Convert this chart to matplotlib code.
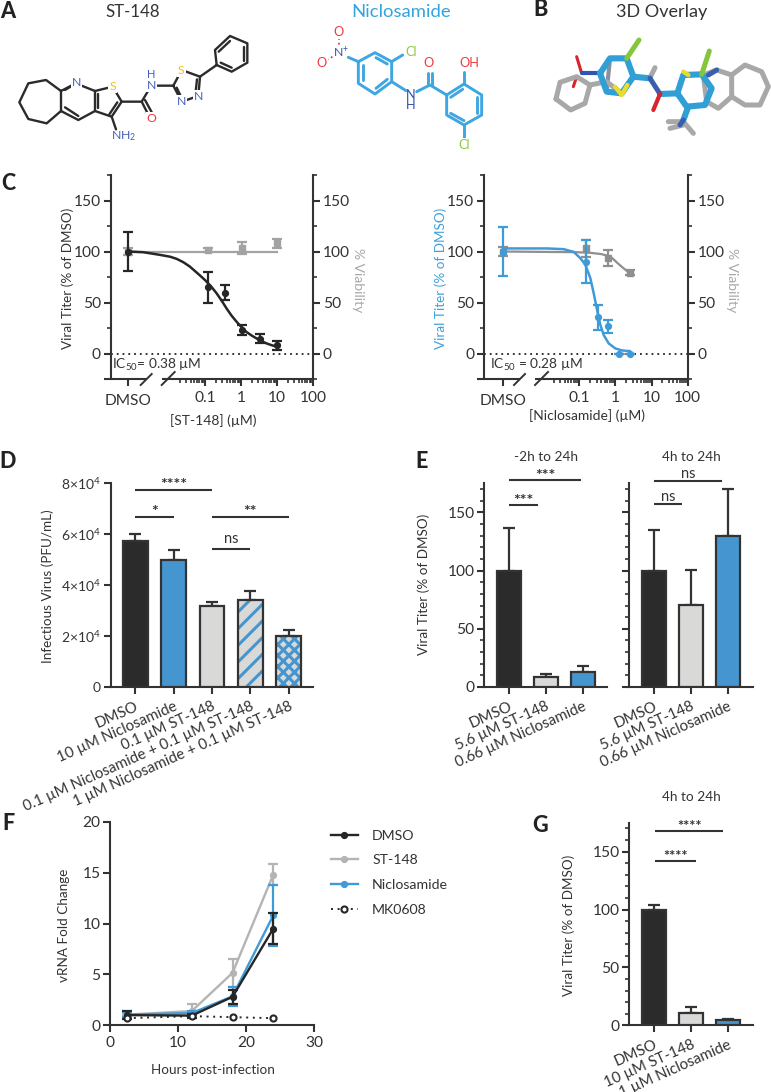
import matplotlib
matplotlib.use('Agg')
import matplotlib.pyplot as plt
from matplotlib.ticker import NullFormatter

plt.rcParams['font.family'] = ['Lato', 'DejaVu Sans']
plt.rcParams['mathtext.default'] = 'regular'
plt.rcParams['hatch.linewidth'] = 2.2
plt.rcParams['text.color'] = '#333333'
plt.rcParams['axes.labelcolor'] = '#333333'

W, H = 771, 1092
DARK = '#2b2b2b'
AX = '#333333'
BLUE = '#3f9ad8'
BARBLUE = '#4596d0'
BARGREY = '#d9d9d7'
GREY = '#a3a3a3'
GREY2 = '#8f8f8f'
TICKFS = 11.2
LABFS = 9.7

# ---- Panel C data
st_conc = [0.125, 0.37, 1.1, 3.3, 10]
st_titer = [65, 59.5, 23, 14.5, 8]
st_titer_err = [15, 7.5, 5, 4.5, 4.5]
st_dmso = [100, 19.5]
st_via_conc = [0.125, 1.1, 10]
st_via = [101.5, 103.5, 108]
st_via_err = [1.5, 5.5, 4.5]
st_via_dmso = [100, 3]
st_fit_x = [0.00074, 0.00194, 0.0056, 0.0107, 0.0163, 0.025, 0.038, 0.07, 0.1, 0.15, 0.21, 0.3, 0.40, 0.55, 0.76, 1.05, 1.43, 2.0, 2.7, 3.8, 5.2, 7.3, 10.2]
st_fit_y = [100, 99.3, 96.7, 94.9, 92.8, 89.5, 85.2, 77, 72, 65.5, 59, 51, 44, 37, 31, 25.5, 21, 17.5, 14.8, 12, 9.8, 8, 6.6]
st_via_fit_x = [0.00074, 10.2]
st_via_fit_y = [100, 100]

ni_conc = [0.155, 0.32, 0.64, 1.25, 2.5]
ni_titer = [90, 35.5, 26.5, 0, 0]
ni_titer_err = [21, 12.5, 6.5, 0, 0]
ni_dmso = [100, 24.5]
ni_via_conc = [0.155, 0.64, 2.5]
ni_via = [103, 93.5, 79]
ni_via_err = [8, 7.5, 2.5]
ni_via_dmso = [100, 4.5]
ni_fit_x = [0.00076, 0.01265, 0.0367, 0.0696, 0.1066, 0.147, 0.202, 0.25, 0.31, 0.383, 0.474, 0.653, 1.0, 1.53, 2.5]
ni_fit_y = [103, 103, 102.3, 99.7, 93.4, 87, 73.8, 59, 42.6, 27.9, 18, 9.8, 4.9, 3, 2.3]
ni_via_fit_x = [0.00076, 0.086, 0.202, 0.4, 0.64, 0.85, 1.11, 1.5, 1.9, 2.5]
ni_via_fit_y = [100, 99.3, 98.7, 97.5, 95.7, 93, 89, 85, 82, 78.7]

# ---- Panel D data
d_labels = ['DMSO', '10 µM Niclosamide', '0.1 µM ST-148',
            '0.1 µM Niclosamide + 0.1 µM ST-148', '1 µM Niclosamide + 0.1 µM ST-148']
d_vals = [5.75e4, 5.0e4, 3.17e4, 3.4e4, 2.0e4]
d_errs = [0.25e4, 0.37e4, 0.17e4, 0.36e4, 0.25e4]

# ---- Panel E data
e_labels = ['DMSO', '5.6 µM ST-148', '0.66 µM Niclosamide']
e1_vals = [100, 8.5, 13]
e1_errs = [37, 2.5, 5]
e2_vals = [100, 70.5, 130]
e2_errs = [35, 30, 40]

# ---- Panel F data
f_hours = [2.5, 12, 18, 24]
f_dmso = [1.0, 0.95, 2.8, 9.5]
f_dmso_low = [0.65, 0.75, 2.05, 8.0]
f_dmso_up = [1.4, 1.15, 3.5, 11.0]
f_st = [1.05, 1.4, 5.15, 14.8]
f_st_low = [0.95, 1.0, 3.8, 13.8]
f_st_up = [1.15, 2.05, 6.55, 15.85]
f_ni = [1.05, 1.2, 2.85, 10.8]
f_ni_low = [0.85, 1.0, 1.9, 7.8]
f_ni_up = [1.3, 1.45, 3.75, 13.8]
f_mk = [0.7, 0.9, 0.8, 0.7]

# ---- Panel G data
g_labels = ['DMSO', '10 µM ST-148', '1 µM Niclosamide']
g_vals = [100, 11, 4.5]
g_errs = [4, 5, 1]

fig = plt.figure(figsize=(W / 100, H / 100), dpi=100, facecolor='white')

def axpx(l, t, r, b):
    return fig.add_axes([l / W, 1 - b / H, (r - l) / W, (b - t) / H])

def style(ax, lw=1.5):
    for s in ax.spines.values():
        s.set_linewidth(lw)
        s.set_color(AX)
    ax.patch.set_alpha(0)
    ax.tick_params(which='major', width=lw, length=5, color=AX, labelsize=TICKFS, labelcolor=AX, pad=2)
    ax.tick_params(which='minor', width=1.2, length=3.2, color=AX)

def place(axis, ax, px, py):
    inv = ax.transAxes.inverted()
    x, y = inv.transform((px, H - py))
    axis.set_label_coords(x, y)

ov = fig.add_axes([0, 0, 1, 1], zorder=10)
ov.set_xlim(0, W)
ov.set_ylim(H, 0)
ov.axis('off')
ov.patch.set_alpha(0)

# ---------------- Panel letters and titles
for s, x, y in [('A', 8, 11), ('B', 541, 9), ('C', 8, 183), ('D', 8, 462), ('E', 422, 462), ('F', 8, 823), ('G', 540, 825)]:
    ov.text(x, y, s, fontsize=15.5, fontweight='black', color='#222222', ha='center', va='center')
ov.text(133, 12, 'ST-148', fontsize=12.2, ha='center', va='center', color='#333333')
ov.text(401, 12, 'Niclosamide', fontsize=13.3, ha='center', va='center', color='#34a3dc')
ov.text(662, 12, '3D Overlay', fontsize=13, ha='center', va='center', color='#333333')

# ---------------- Molecule A
def mol(ox, oy, chains, color, lw=1.7):
    for pts in chains:
        ov.plot([ox + p[0] / 3 for p in pts], [oy + p[1] / 3 for p in pts],
                color=color, lw=lw, solid_capstyle='round', solid_joinstyle='round')

def mtext(ox, oy, x, y, s, c, fs=8.8):
    ov.text(ox + x / 3, oy + y / 3, s, color=c, fontsize=fs, ha='center', va='center',
            bbox=dict(fc='white', ec='none', pad=0.6))

N_C, S_C, O_C, CL_C = '#3f5fbf', '#eac21f', '#f0383c', '#8fc83c'
mol(10, 20, [
    [(153, 213), (108, 180), (55, 190), (28, 247), (55, 297), (110, 310), (153, 273), (153, 213), (197, 190), (255, 213), (255, 273), (205, 300), (153, 273)],
    [(255, 213), (308, 200), (335, 245), (305, 290), (255, 273)],
    [(305, 290), (318, 328)],
    [(335, 245), (395, 245), (425, 195)],
    [(395, 245), (418, 290)],
    [(405, 240), (428, 282)],
    [(440, 197), (490, 197), (515, 150), (570, 170), (565, 228), (515, 245), (490, 197)],
    [(570, 170), (620, 135), (615, 90), (660, 48), (712, 70), (712, 128), (665, 155), (620, 135)],
    [(165, 210), (190, 195)], [(165, 262), (205, 288)], [(263, 222), (263, 265)], [(322, 247), (298, 283)],
    [(500, 203), (514, 232)], [(561, 178), (557, 215)],
    [(626, 95), (660, 63)], [(702, 80), (702, 122)], [(665, 143), (632, 128)],
], DARK)
for x, y, s, c in [(200, 188, 'N', N_C), (308, 200, 'S', S_C), (425, 296, 'O', O_C), (425, 197, 'N', N_C),
                   (514, 152, 'S', S_C), (515, 245, 'N', N_C), (567, 228, 'N', N_C)]:
    mtext(10, 20, x, y, s, c)
ov.text(10 + 425 / 3, 20 + 162 / 3, 'H', color=N_C, fontsize=8, ha='center', va='center')
ov.text(10 + 342 / 3, 20 + 347 / 3, 'NH$_2$', color=N_C, fontsize=8.8, ha='center', va='center')

# ---------------- Molecule B
mol(300, 20, [
    [(175, 125), (225, 98), (275, 125), (275, 185), (225, 222), (175, 190), (175, 125)],
    [(145, 112), (175, 125)], [(275, 125), (308, 105)], [(275, 185), (318, 212)],
    [(350, 215), (390, 195), (440, 225), (492, 192), (545, 225), (545, 285), (492, 315), (440, 285), (440, 225)],
    [(385, 195), (385, 160)], [(396, 195), (396, 160)], [(492, 192), (492, 155)], [(492, 315), (492, 358)],
    [(188, 135), (188, 180)], [(228, 113), (262, 132)], [(262, 178), (228, 205)],
    [(532, 232), (532, 278)], [(492, 302), (452, 280)], [(452, 232), (488, 208)],
], '#3ea6e0', lw=2.1)
for x, y, s, c in [(117, 37, 'O', O_C), (65, 128, 'O', O_C), (332, 97, 'Cl', CL_C), (385, 130, 'O', O_C),
                   (507, 130, 'OH', O_C), (493, 375, 'Cl', CL_C)]:
    mtext(300, 20, x, y, s, c, 9.2)
ov.text(300 + 122 / 3, 20 + 96 / 3, 'N$^{+}$', color='#3050b0', fontsize=8.8, ha='center', va='center')
ov.text(300 + 333 / 3, 20 + 224 / 3, 'N', color='#3050b0', fontsize=9.2, ha='center', va='center')
ov.text(300 + 333 / 3, 20 + 255 / 3, 'H', color='#3050b0', fontsize=9.2, ha='center', va='center')
ov.plot([300 + 118 / 3, 300 + 118 / 3], [20 + 55 / 3, 20 + 78 / 3], color=O_C, lw=1.3, ls=':')
ov.plot([300 + 80 / 3, 300 + 98 / 3], [20 + 120 / 3, 20 + 110 / 3], color=O_C, lw=1.3, ls=':')

# ---------------- 3D overlay
def tube(chains, color, lw):
    for pts in chains:
        ov.plot([540 + p[0] / 3 for p in pts], [25 + p[1] / 3 for p in pts],
                color=color, lw=lw, solid_capstyle='round', solid_joinstyle='round')
tube([[(110, 95), (125, 145)]], '#d8242c', 2.2)
tube([[(110, 155), (100, 185)]], '#d8242c', 2.2)
tube([[(125, 145), (180, 145)]], '#2f55b0', 3)
tube([[(210, 100), (200, 200)]], '#8a8fa0', 3)
tube([[(48, 222), (60, 172), (110, 155), (150, 180), (135, 235), (92, 255), (48, 222)],
      [(150, 180), (200, 170), (245, 205), (280, 155)], [(345, 128), (330, 158)],
      [(575, 150), (615, 120), (665, 140), (685, 185), (660, 240), (615, 240), (575, 215), (575, 150), (530, 135), (490, 150), (500, 230), (535, 250), (575, 215)],
      [(385, 290), (430, 290), (460, 325)], [(390, 310), (430, 300)]], '#a8a8a8', 3.6)
tube([[(180, 145), (210, 100), (260, 100), (280, 155), (245, 205), (200, 200), (180, 145)],
      [(280, 155), (330, 160)], [(360, 207), (412, 205), (430, 150), (485, 148), (515, 190), (495, 240), (440, 245), (412, 205)],
      [(445, 245), (430, 285)]], '#2f9fd6', 4.4)
tube([[(330, 160), (360, 207)], [(430, 285), (420, 300)], [(505, 150), (530, 135)]], '#3a5fae', 3.6)
tube([[(360, 207), (340, 255)]], '#d8242c', 3)
tube([[(260, 100), (297, 45)], [(485, 148), (508, 78)]], '#86c63c', 3.6)
tube([[(225, 185), (245, 210), (262, 180)], [(430, 140), (445, 150)]], '#e8dc2c', 3.2)

# ---------------- Panel C
def dose_panel(left, right, x01, xdmso, conc, titer, terr, dm, vconc, via, verr, vdm,
               fx, fy, vfx, vfy, color, vcolor, ylab_color, ylabx, vlabx, xlabel, xlabxy, ic, icx):
    decade = 36.0
    ax = axpx(left, 175, right, 379)
    lo = 10 ** (-1 - (x01 - left) / decade)
    ax.set_xscale('log')
    ax.set_xlim(lo, 100)
    ax.set_ylim(-25, 175)
    style(ax)
    rx = ax.twinx()
    rx.set_ylim(-25, 175)
    style(rx)
    for a in (ax, rx):
        a.spines['top'].set_visible(False)
        a.spines['bottom'].set_visible(False)
        a.set_yticks([0, 50, 100, 150])
        a.set_yticks([-25, 25, 75, 125, 175], minor=True)
    rx.spines['left'].set_visible(False)
    ax.spines['right'].set_visible(False)
    dms = 10 ** (-1 - (x01 - xdmso) / decade)
    ax.set_xticks([dms, 0.1, 1, 10, 100])
    ax.set_xticklabels(['DMSO', '0.1', '1', '10', '100'])
    minors = [m * 10 ** e for e in (-2, -1, 0, 1) for m in range(2, 10)]
    ax.set_xticks(minors, minor=True)
    ax.xaxis.set_minor_formatter(NullFormatter())
    ax.tick_params(axis='x', which='major', pad=4)
    ax.xaxis.get_major_ticks()[0].set_pad(5.5)
    ax.axhline(0, color='#222222', lw=1.3, ls=(0, (1, 2.2)), zorder=1)
    rx.set_ylabel('% Viability', fontsize=LABFS + 0.3, color=ylab_color[1], rotation=270, va='center', ha='center')
    place(rx.yaxis, rx, vlabx, 280)
    ek = dict(fmt='none', lw=1.6, capthick=1.6, capsize=3.6, clip_on=False)
    ax.plot(vfx, vfy, color=vcolor, lw=1.6, zorder=3)
    ax.errorbar([dms] + vconc, [vdm[0]] + via, yerr=[vdm[1]] + verr, ecolor=vcolor, zorder=3, **ek)
    ax.plot([dms] + vconc, [vdm[0]] + via, 's', color=vcolor, ms=4, zorder=3, ls='none')
    ax.plot(fx, fy, color=color, lw=1.8, zorder=4)
    ax.errorbar([dms] + conc, [dm[0]] + titer, yerr=[dm[1]] + terr, ecolor=color, zorder=4, **ek)
    ax.plot([dms] + conc, [dm[0]] + titer, 'o', color=color, ms=4.2, zorder=5, ls='none', clip_on=False)
    ax.set_ylabel('Viral Titer (% of DMSO)', fontsize=LABFS, color=ylab_color[0], va='center', ha='center')
    place(ax.yaxis, ax, ylabx, 278)
    ax.set_xlabel(xlabel, fontsize=LABFS + 0.3, va='center', ha='center')
    place(ax.xaxis, ax, xlabxy[0], xlabxy[1])
    # broken x axis baseline and slashes
    ov.plot([left - 7, left + 36], [379, 379], color=AX, lw=1.5, solid_capstyle='butt')
    ov.plot([left + 51, right + 1], [379, 379], color=AX, lw=1.5, solid_capstyle='butt')
    ov.plot([left + 30, left + 41], [385, 374], color=AX, lw=1.4)
    ov.plot([left + 51, left + 64], [385, 372], color=AX, lw=1.4)
    ov.text(icx, 365, ic, fontsize=9.9, color='#333333', ha='left', va='center')
    return ax

dose_panel(110.7, 313, 205, 128.3, st_conc, st_titer, st_titer_err, st_dmso,
           st_via_conc, st_via, st_via_err, st_via_dmso, st_fit_x, st_fit_y,
           st_via_fit_x, st_via_fit_y, '#262626', GREY, ('#333333', '#a8a8a8'), 68, 358,
           '[ST-148] (µM)', (213, 420.5), 'IC$_{50}$= 0.38 µM', 112.5)
dose_panel(484, 687.7, 579, 502.7, ni_conc, ni_titer, ni_titer_err, ni_dmso,
           ni_via_conc, ni_via, ni_via_err, ni_via_dmso, ni_fit_x, ni_fit_y,
           ni_via_fit_x, ni_via_fit_y, BLUE, GREY2, ('#3fa0dc', '#a8a8a8'), 441, 732,
           '[Niclosamide] (µM)', (587, 416), 'IC$_{50}$ = 0.28 µM', 490)

# ---------------- Bars
def bars(ax, vals, errs, colors, hatches=None):
    xs = list(range(len(vals)))
    ax.errorbar(xs, vals, yerr=[[0] * len(errs), errs], fmt='none', ecolor=AX, lw=1.6,
                capsize=4.4, capthick=1.6, zorder=2, clip_on=False)
    for i, (v, c) in enumerate(zip(vals, colors)):
        h = hatches[i] if hatches else None
        if h:
            ax.bar(i, v, 0.65, color=BARGREY, hatch=h, edgecolor=BARBLUE, linewidth=0, zorder=3)
            ax.bar(i, v, 0.65, fill=False, edgecolor=AX, linewidth=1.6, zorder=4)
        else:
            ax.bar(i, v, 0.65, color=c, edgecolor=AX, linewidth=1.6, zorder=3)

def bracket(ax, x0, x1, y, s, dy, fs=11.5, fw='bold'):
    ax.plot([x0, x1], [y, y], color=AX, lw=1.5, clip_on=False, solid_capstyle='butt')
    ax.text((x0 + x1) / 2, y + dy, s, ha='center', va='center', fontsize=fs, color='#333333',
            clip_on=False, fontweight=fw)

def catx(ax, labels):
    ax.set_xticks(range(len(labels)))
    ax.set_xticklabels(labels, rotation=24, ha='right', rotation_mode='anchor', fontsize=10.8, color=AX)
    ax.tick_params(axis='x', which='major', pad=4)
    ax.spines['top'].set_visible(False)
    ax.spines['right'].set_visible(False)

# D
axd = axpx(110.7, 483.3, 313, 687)
style(axd)
axd.set_xlim((110.7 - 135.3) / 38.35, (313 - 135.3) / 38.35)
axd.set_ylim(0, 8e4)
bars(axd, d_vals, d_errs, [DARK, BARBLUE, BARGREY, BARGREY, BARGREY], [None, None, None, '//', 'xxx'])
catx(axd, d_labels)
axd.set_yticks([0, 2e4, 4e4, 6e4, 8e4])
axd.set_yticklabels(['0', '2×10$^{4}$', '4×10$^{4}$', '6×10$^{4}$', '8×10$^{4}$'])
axd.tick_params(axis='y', labelsize=10)
axd.set_ylabel('Infectious Virus (PFU/mL)', fontsize=LABFS, va='center', ha='center')
place(axd.yaxis, axd, 47.5, 586)
bracket(axd, 0, 2, 7.72e4, '****', 0.2e4)
bracket(axd, 0, 1, 6.66e4, '*', 0.2e4)
bracket(axd, 2, 4, 6.66e4, '**', 0.2e4)
bracket(axd, 2, 3, 5.42e4, 'ns', 0.38e4, 10.5, 'normal')

# E
def eaxes(l, r, vals, errs, labels, ylabel):
    ax = axpx(l, 483.3, r, 687)
    style(ax)
    ax.set_xlim(-24.6 / 37, (r - (l + 24.6)) / 37)
    ax.set_ylim(0, 175)
    bars(ax, vals, errs, [DARK, BARGREY, BARBLUE])
    catx(ax, labels)
    ax.set_yticks([0, 50, 100, 150])
    ax.set_yticks([v for v in range(0, 180, 10) if v % 50], minor=True)
    if not ylabel:
        ax.set_yticklabels([])
    return ax

axe1 = eaxes(484.3, 607, e1_vals, e1_errs, e_labels, True)
axe1.set_ylabel('Viral Titer (% of DMSO)', fontsize=LABFS, va='center', ha='center')
place(axe1.yaxis, axe1, 424, 584)
bracket(axe1, 0, 0.78, 156.4, '***', 3.5)
bracket(axe1, 0, 1.95, 178, '***', 3.5)
axe2 = eaxes(629.3, 752.7, e2_vals, e2_errs, e_labels, False)
bracket(axe2, 0, 0.75, 157, 'ns', 6, 10.5, 'normal')
bracket(axe2, 0, 1.83, 177, 'ns', 6, 10.5, 'normal')
ov.text(546, 457, '-2h to 24h', fontsize=9.8, ha='center', va='center')
ov.text(691, 457, '4h to 24h', fontsize=9.8, ha='center', va='center')

# F
axf = axpx(110.3, 821.7, 314, 1025.3)
style(axf)
axf.spines['top'].set_visible(False)
axf.spines['right'].set_visible(False)
axf.set_xlim(0, 30)
axf.set_ylim(0, 20)
axf.set_xticks([0, 10, 20, 30])
axf.set_yticks([0, 5, 10, 15, 20])
axf.tick_params(axis='x', pad=3)
def eb(y, lo, up, c, z):
    axf.errorbar(f_hours, y, yerr=[[a - b for a, b in zip(y, lo)], [b - a for a, b in zip(y, up)]],
                 fmt='none', ecolor=c, lw=1.6, capsize=3.4, capthick=1.6, zorder=z, clip_on=False)
    return axf.plot(f_hours, y, '-o', color=c, lw=1.7, ms=4.2, zorder=z, clip_on=False)[0]
h_st = eb(f_st, f_st_low, f_st_up, '#b4b4b4', 2)
h_ni = eb(f_ni, f_ni_low, f_ni_up, BLUE, 3)
h_dm = eb(f_dmso, f_dmso_low, f_dmso_up, '#262626', 4)
h_mk = axf.plot(f_hours, f_mk, color='#262626', lw=1.4, ls=(0, (1, 2.4)), marker='o', ms=4.4,
                mfc='white', mec='#262626', mew=1.5, zorder=5)[0]
axf.legend([h_dm, h_st, h_ni, h_mk], ['DMSO', 'ST-148', 'Niclosamide', 'MK0608'],
           loc='upper left', bbox_to_anchor=(330.7 / W, 1 - 829.5 / H), bbox_transform=fig.transFigure,
           frameon=False, fontsize=10.2, handlelength=1.9, handletextpad=1.03, labelspacing=0.9,
           borderpad=0, borderaxespad=0, labelcolor=AX)
axf.set_xlabel('Hours post-infection', fontsize=LABFS, va='center', ha='center')
place(axf.xaxis, axf, 212.5, 1070.5)
axf.set_ylabel('vRNA Fold Change', fontsize=LABFS, va='center', ha='center')
place(axf.yaxis, axf, 64.5, 925)

# G
axg = axpx(629.3, 822.7, 752.7, 1025.3)
style(axg)
axg.set_xlim(-24.7 / 37, (752.7 - 654) / 37)
axg.set_ylim(0, 175)
bars(axg, g_vals, g_errs, [DARK, BARGREY, BARBLUE])
catx(axg, g_labels)
axg.set_yticks([0, 50, 100, 150])
axg.set_yticks([v for v in range(0, 180, 10) if v % 50], minor=True)
axg.set_ylabel('Viral Titer (% of DMSO)', fontsize=LABFS, va='center', ha='center')
place(axg.yaxis, axg, 569, 925)
bracket(axg, 0.04, 1.13, 142, '****', 3.5, 10.5)
bracket(axg, 0.04, 1.86, 167.5, '****', 3.5, 10.5)
ov.text(691, 797, '4h to 24h', fontsize=9.8, ha='center', va='center')

fig.savefig('out.png', dpi=100, facecolor='white')
